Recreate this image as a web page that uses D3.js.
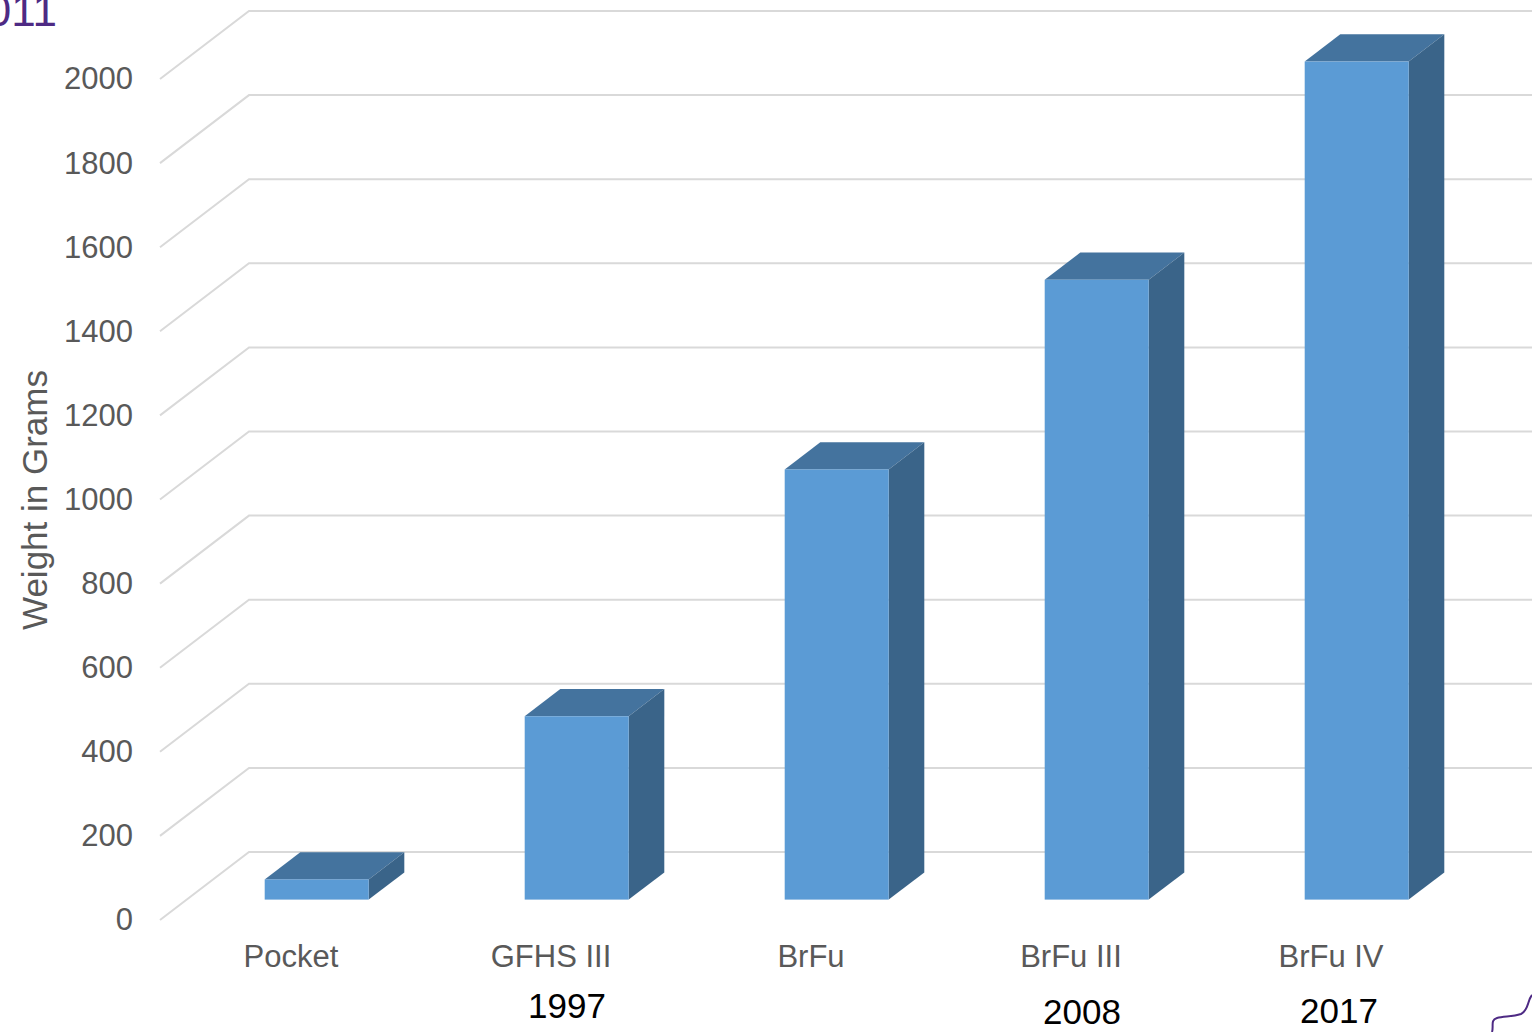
<html>
<head>
<style>
  body { margin: 0; background: #fff; }
  svg text { font-family: "Liberation Sans", Arial, sans-serif; }
</style>
</head>
<body>

<svg id="chart"></svg>

<script src="https://cdn.jsdelivr.net/npm/d3@7/dist/d3.min.js"></script>
<script>
// data
var categories = ["Pocket", "GFHS III", "BrFu", "BrFu III", "BrFu IV"];
var weights = [48, 436, 1023, 1474, 1993];
var years = ["", "1997", "", "2008", "2017"];
var yTicks = [0, 200, 400, 600, 800, 1000, 1200, 1400, 1600, 1800, 2000];

// year labels sit a little off the category centres (layout only)
var yearNudge = [[0, 0], [17, 51], [0, 0], [12, 57], [9, 56]];

var width = 1532, height = 1032;

// oblique depth of the floor: full depth shifts right and up
var depthX = 89, depthY = -68;
var barZ0 = 0.3, barZ1 = 0.7;

var svg = d3.select("svg#chart")
    .attr("width", width)
    .attr("height", height);

var x = d3.scaleBand()
    .domain(categories)
    .range([160, 1460])
    .paddingInner(0.6)
    .paddingOuter(0.3);

var y = d3.scaleLinear()
    .domain([0, 2000])
    .range([920, 79]);

function proj(px, py, z) {
    return [px + z * depthX, py + z * depthY];
}

// gridlines: side wall diagonal + back wall horizontal
var grid = svg.append("g").attr("class", "grid");
grid.selectAll("polyline")
    .data(yTicks)
    .enter().append("polyline")
    .attr("points", function(d) {
        var a = proj(160, y(d), 0), b = proj(160, y(d), 1), c = proj(1460, y(d), 1);
        return [a, b, c].map(function(p) { return p.join(","); }).join(" ");
    })
    .attr("fill", "none")
    .attr("stroke", "#d9d9d9")
    .attr("stroke-width", 2);

// y axis (labels only)
svg.append("g")
    .attr("class", "y axis")
    .attr("transform", "translate(160,0)")
    .call(d3.axisLeft(y).tickValues(yTicks).tickSize(0).tickPadding(27).tickFormat(d3.format("d")))
    .call(function(g) { g.select(".domain").remove(); })
    .selectAll("text")
    .attr("font-size", 31)
    .attr("font-family", "Liberation Sans, Arial, sans-serif")
    .attr("fill", "#595959");

svg.append("text")
    .attr("transform", "translate(47,500) rotate(-90)")
    .attr("text-anchor", "middle")
    .attr("font-size", 35)
    .attr("fill", "#595959")
    .text("Weight in Grams");

// 3d bars
var bars = svg.append("g").attr("id", "bars");
var bar = bars.selectAll(".bar")
    .data(categories.map(function(c, i) { return {cat: c, value: weights[i]}; }))
    .enter().append("g")
    .attr("class", "bar");

function poly(pts) {
    return pts.map(function(p) { return p.join(","); }).join(" ");
}

// top face
bar.append("polygon")
    .attr("points", function(d) {
        var x0 = x(d.cat), x1 = x0 + x.bandwidth(), yt = y(d.value);
        return poly([proj(x0, yt, barZ0), proj(x1, yt, barZ0), proj(x1, yt, barZ1), proj(x0, yt, barZ1)]);
    })
    .attr("fill", "#44739e");

// side face
bar.append("polygon")
    .attr("points", function(d) {
        var x1 = x(d.cat) + x.bandwidth(), yt = y(d.value), yb = y(0);
        return poly([proj(x1, yt, barZ0), proj(x1, yt, barZ1), proj(x1, yb, barZ1), proj(x1, yb, barZ0)]);
    })
    .attr("fill", "#3a6489");

// front face
bar.append("rect")
    .attr("x", function(d) { return proj(x(d.cat), 0, barZ0)[0]; })
    .attr("y", function(d) { return proj(0, y(d.value), barZ0)[1]; })
    .attr("width", x.bandwidth())
    .attr("height", function(d) { return y(0) - y(d.value); })
    .attr("fill", "#5b9bd5");

// category labels
svg.append("g")
    .selectAll("text")
    .data(categories)
    .enter().append("text")
    .attr("x", function(d) { return x(d) + x.bandwidth() / 2 + 1; })
    .attr("y", 967)
    .attr("text-anchor", "middle")
    .attr("font-size", 31)
    .attr("fill", "#595959")
    .text(function(d) { return d; });

// year labels
svg.append("g")
    .selectAll("text")
    .data(categories.map(function(c, i) { return {cat: c, year: years[i], nudge: yearNudge[i]}; })
        .filter(function(d) { return d.year !== ""; }))
    .enter().append("text")
    .attr("x", function(d) { return x(d.cat) + x.bandwidth() / 2 + d.nudge[0]; })
    .attr("y", function(d) { return 967 + d.nudge[1]; })
    .attr("text-anchor", "middle")
    .attr("font-size", 35)
    .attr("fill", "#000")
    .text(function(d) { return d.year; });

// slide leftovers: cropped title and a stray purple stroke
svg.append("text")
    .attr("x", 57)
    .attr("y", 26)
    .attr("text-anchor", "end")
    .attr("font-size", 44)
    .attr("fill", "#4e2a84")
    .text("2011");

svg.append("path")
    .attr("d", "M1492,1032 C1494,1026 1490,1020 1497,1018 C1504,1016 1512,1017 1521,1014 C1529,1010 1527,1001 1532,995")
    .attr("fill", "none")
    .attr("stroke", "#4e2a84")
    .attr("stroke-width", 2);

</script>
</body>
</html>
